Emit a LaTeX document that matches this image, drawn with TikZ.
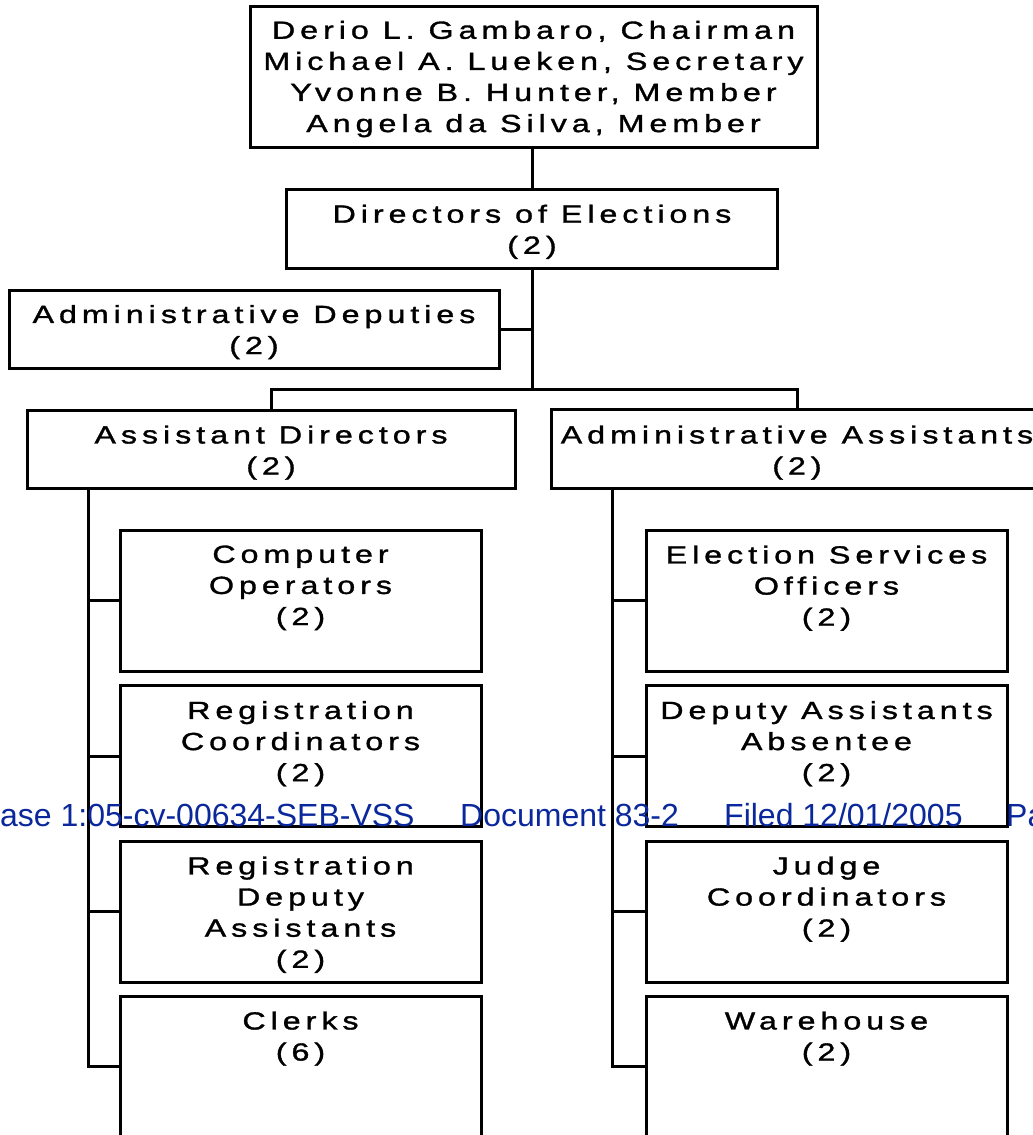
\documentclass[tikz,border=0pt]{standalone}
\usepackage{fontspec}
\setmainfont{Liberation Sans}
\newfontfamily\boxfont[FakeStretch=1.3,LetterSpace=20,FakeBold=1.3]{Liberation Sans}
\newfontfamily\wmfont{Liberation Sans}
\definecolor{wmblue}{RGB}{10,40,155}
\begin{document}
\begin{tikzpicture}[x=1pt,y=-1pt,
  box/.style={draw=black,line width=3pt,rectangle,inner sep=0pt},
  lbl/.style={font=\boxfont\fontsize{24.8}{31.1}\selectfont,align=center,inner sep=0pt,anchor=north},
  wire/.style={draw=black,line width=3pt},
  wm/.style={font=\wmfont\fontsize{32}{36}\selectfont,text=wmblue,inner sep=0pt,anchor=base west}]
\useasboundingbox (0,0) rectangle (1033,1135);
\clip (0,0) rectangle (1033,1135);
% main boxes
\node[box,minimum width=567pt,minimum height=141pt] (board) at (533.5,76.5) {};
\node[lbl] (boardT) at (533.5,20.6) {Derio L. Gambaro, Chairman\\Michael A. Lueken, Secretary\\Yvonne B. Hunter, Member\\Angela da Silva, Member};
\node[box,minimum width=491pt,minimum height=79pt] (dir) at (532,228.5) {};
\node[lbl] (dirT) at (532,204.5) {Directors of Elections\\(2)};
\node[box,minimum width=490pt,minimum height=78pt] (dep) at (254,329.5) {};
\node[lbl] (depT) at (254,304.8) {Administrative Deputies\\(2)};
\node[box,minimum width=488pt,minimum height=78pt] (ad) at (271,449) {};
\node[lbl] (adT) at (271,425.3) {Assistant Directors\\(2)};
\node[box,minimum width=492pt,minimum height=79pt] (aa) at (797,448.5) {};
\node[lbl] (aaT) at (797,425.3) {Administrative Assistants\\(2)};
% left column
\node[box,minimum width=361pt,minimum height=141pt] (c1) at (300.5,600.5) {};
\node[lbl] (c1T) at (300.5,545.3) {Computer\\Operators\\(2)};
\node[box,minimum width=361pt,minimum height=141pt] (c2) at (300.5,756) {};
\node[lbl] (c2T) at (300.5,700.8) {Registration\\Coordinators\\(2)};
\node[box,minimum width=361pt,minimum height=141pt] (c3) at (300.5,911.5) {};
\node[lbl] (c3T) at (300.5,856.3) {Registration\\Deputy\\Assistants\\(2)};
\node[box,minimum width=361pt,minimum height=141pt] (c4) at (300.5,1066.5) {};
\node[lbl] (c4T) at (300.5,1011.3) {Clerks\\(6)};
% right column
\node[box,minimum width=361pt,minimum height=141pt] (r1) at (826.5,600.5) {};
\node[lbl] (r1T) at (826.5,545.3) {Election Services\\Officers\\(2)};
\node[box,minimum width=361pt,minimum height=141pt] (r2) at (826.5,756) {};
\node[lbl] (r2T) at (826.5,700.8) {Deputy Assistants\\Absentee\\(2)};
\node[box,minimum width=361pt,minimum height=141pt] (r3) at (826.5,911.5) {};
\node[lbl] (r3T) at (826.5,856.3) {Judge\\Coordinators\\(2)};
\node[box,minimum width=361pt,minimum height=141pt] (r4) at (826.5,1066.5) {};
\node[lbl] (r4T) at (826.5,1011.3) {Warehouse\\(2)};
% connectors
\coordinate (j) at (532,389);
\path[wire] (board.south -| dir.south) -- (dir.north);
\path[wire] (dir.south) -- (j);
\path[wire] (dep.east) -- (dep.east -| j);
\path[wire] (ad.north) |- (j) -| (aa.north);
\coordinate (lt) at (88,488);
\coordinate (rt) at (612,488);
\path[wire] (lt) |- (c4.west);
\path[wire] (c1.west) -- (c1.west -| lt);
\path[wire] (c2.west) -- (c2.west -| lt);
\path[wire] (c3.west) -- (c3.west -| lt);
\path[wire] (rt) |- (r4.west);
\path[wire] (r1.west) -- (r1.west -| rt);
\path[wire] (r2.west) -- (r2.west -| rt);
\path[wire] (r3.west) -- (r3.west -| rt);
% file stamp
\node[wm] (wm1) at (0,826) {ase 1:05-cv-00634-SEB-VSS};
\node[wm] (wm2) at (460,826) {Document 83-2};
\node[wm] (wm3) at (724,826) {Filed 12/01/2005};
\node[wm] (wm4) at (1006,826) {Pa};
\end{tikzpicture}
\end{document}
